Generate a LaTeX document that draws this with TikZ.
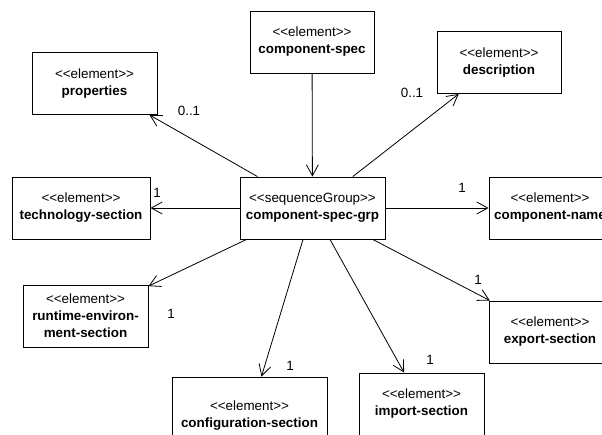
\documentclass[tikz,border=0pt]{standalone}
\usepackage{fontspec}
\setmainfont{Liberation Sans}[Ligatures=TeXOff]
\usetikzlibrary{arrows.meta}
\begin{document}
\begin{tikzpicture}[x=1pt,y=-1pt,
  umlbox/.style={draw, line width=0.9pt, minimum width=#1, minimum height=62pt,
    inner sep=0pt, align=center, font=\fontsize{13.4}{17}\selectfont},
  mult/.style={inner sep=0pt, font=\fontsize{13.4}{15}\selectfont},
  assoc/.style={line width=0.8pt, -{Straight Barb[length=11pt,width=12pt,line width=0.8pt]}}
]
\useasboundingbox (0,0) rectangle (602,434);
\clip (0,0) rectangle (602,434);

% central sequence group
\node[umlbox=145pt] (grp) at (312.5,208) {<<sequenceGroup>>\\\textbf{component-spec-grp}};

% surrounding elements
\node[umlbox=124pt] (spec) at (312,42) {<<element>>\\\textbf{component-spec}};
\node[umlbox=125pt] (props) at (94.5,83.5) {<<element>>\\\textbf{properties}};
\node[umlbox=124pt] (desc) at (499,62.5) {<<element>>\\\textbf{description}};
\node[umlbox=138pt] (tech) at (81,208) {<<element>>\\\textbf{technology-section}};
\node[umlbox=122pt] (cname) at (550,208) {<<element>>\\\textbf{component-name}};
\node[umlbox=125pt] (rt) at (85.5,316) {<<element>>\\\textbf{runtime-environ-}\\\textbf{ment-section}};
\node[umlbox=122pt] (exp) at (550,332) {<<element>>\\\textbf{export-section}};
\node[umlbox=155pt, minimum height=78pt] (conf) at (249.5,416) {<<element>>\\\textbf{configuration-section}};
\node[umlbox=125pt] (imp) at (421.5,404) {<<element>>\\\textbf{import-section}};

% associations
\draw[assoc] (spec) -- (grp);
\draw[assoc] (grp) -- (props);
\draw[assoc] (grp) -- (desc);
\draw[assoc] (grp) -- (tech);
\draw[assoc] (grp) -- (cname);
\draw[assoc] (grp) -- (rt);
\draw[assoc] (grp) -- (conf);
\draw[assoc] (grp) -- (imp);
\draw[assoc] (grp) -- (exp);

% multiplicities
\node[mult] (mprops) at (189,111) {0..1};
\node[mult] (mdesc) at (412,93) {0..1};
\node[mult] (mtech) at (157,193) {1};
\node[mult] (mcname) at (462,188) {1};
\node[mult] (mrt) at (171,314) {1};
\node[mult] (mconf) at (290,366) {1};
\node[mult] (mexp) at (478,280) {1};
\node[mult] (mimp) at (430,360) {1};
\end{tikzpicture}
\end{document}
